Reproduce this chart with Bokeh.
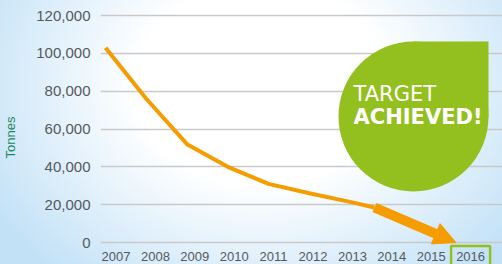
from bokeh.plotting import figure
from bokeh.models import (Range1d, FixedTicker, NumeralTickFormatter, Arrow,
                          NormalHead)
from bokeh.core.properties import value
from bokeh.embed import file_html
from bokeh.resources import INLINE

# ---- data ----
years = [2007, 2008, 2009, 2010, 2011, 2012, 2013]
tonnes = [103000, 76000, 52000, 40000, 31000, 26000, 21500]
arrow_start = (2013.6, 18500)
arrow_end = (2015.6, 0)
target_year = 2016
x_ticks = list(range(2007, 2017))
x_labels = [str(t) for t in x_ticks]
y_ticks = [0, 20000, 40000, 60000, 80000, 100000, 120000]

# ---- layout helpers (pixel geometry of the frame) ----
W, H = 502, 264
FL, FR, FT, FB = 100, 502, 10, 264
X0PX, XSTEP = 105.0, 40.75          # px of 2007, px per year (plotted data)
LX0PX, LXSTEP = 115.5, 39.4         # px of 2007, px per year (year labels row)
Y0PX, YSTEP = 242.0, 37.83 / 20000  # px of 0, px per tonne


def px2x(px):
    return 2007 + (px - X0PX) / XSTEP


def px2y(py):
    return (Y0PX - py) / YSTEP


def label_x(year):
    return px2x(LX0PX + (year - 2007) * LXSTEP)


ORANGE = "#f59c00"
GREEN = "#93c01f"
GREY = "#55595e"

p = figure(width=W, height=H, output_backend="svg", toolbar_location=None,
           x_range=Range1d(px2x(FL), px2x(FR)),
           y_range=Range1d(px2y(FB), px2y(FT)),
           min_border_left=FL, min_border_right=W - FR,
           min_border_top=FT, min_border_bottom=H - FB)
p.styles = {"background": "radial-gradient(ellipse 62% 95% at 52% 32%, #ffffff 40%, #c2e1f7 100%)"}
p.background_fill_alpha = 0
p.border_fill_alpha = 0
p.outline_line_color = None

# axes
p.xaxis.visible = False
p.yaxis.ticker = FixedTicker(ticks=y_ticks)
p.yaxis.formatter = NumeralTickFormatter(format="0,0")
ax = p.yaxis[0]
ax.axis_line_color = None
ax.major_tick_line_color = None
ax.minor_tick_line_color = None
ax.major_label_text_color = GREY
ax.major_label_text_font = "Liberation Sans"
ax.major_label_text_font_size = "15px"
ax.major_label_standoff = 4
ax.axis_label = "Tonnes"
ax.axis_label_text_font = "Liberation Sans"
ax.axis_label_text_font_size = "13px"
ax.axis_label_text_font_style = "normal"
ax.axis_label_text_color = "#178a5f"
ax.axis_label_standoff = 15

p.xgrid.grid_line_color = None
p.ygrid.grid_line_color = "#c9c9c9"
p.ygrid.grid_line_width = 1.5

# x tick labels (drawn as text so the target year can be boxed)
p.text(x=[label_x(t) for t in x_ticks], y=[px2y(256)] * len(x_ticks), text=x_labels,
       text_color=GREY, text_font=value("Liberation Sans"), text_font_size="13px",
       text_align="center", text_baseline="middle")
tx = LX0PX + (target_year - 2007) * LXSTEP
p.quad(left=[px2x(tx - 19.5)], right=[px2x(tx + 19.5)],
       top=[px2y(245.5)], bottom=[px2y(270)],
       fill_color=None, line_color=GREEN, line_width=2.5)

# trend line
p.line(years + [arrow_start[0]], tonnes + [arrow_start[1]],
       line_color=ORANGE, line_width=4, line_join="round")

# arrow towards target
p.add_layout(Arrow(x_start=arrow_start[0], y_start=arrow_start[1],
                   x_end=arrow_end[0], y_end=arrow_end[1],
                   line_color=ORANGE, line_width=10,
                   end=NormalHead(size=22, fill_color=ORANGE, line_color=ORANGE)))

# "target achieved" leaf badge
CX, CY, R = 413, 116, 75
p.circle(x=[px2x(CX)], y=[px2y(CY)], radius=R, radius_units="screen",
         fill_color=GREEN, line_color=None)
p.quad(left=[px2x(CX)], right=[px2x(CX + R)], top=[px2y(CY - R)], bottom=[px2y(CY)],
       fill_color=GREEN, line_color=None)
p.text(x=[px2x(353)], y=[px2y(93)], text=["TARGET"], text_color="white",
       text_font=value("DejaVu Sans"), text_font_size="21px",
       text_baseline="alphabetic", text_align="left")
p.text(x=[px2x(353)], y=[px2y(116)], text=["ACHIEVED!"], text_color="white",
       text_font=value("DejaVu Sans"), text_font_size="21px", text_font_style="bold",
       text_baseline="alphabetic", text_align="left")

open("out.html", "w").write(file_html(p, INLINE))
